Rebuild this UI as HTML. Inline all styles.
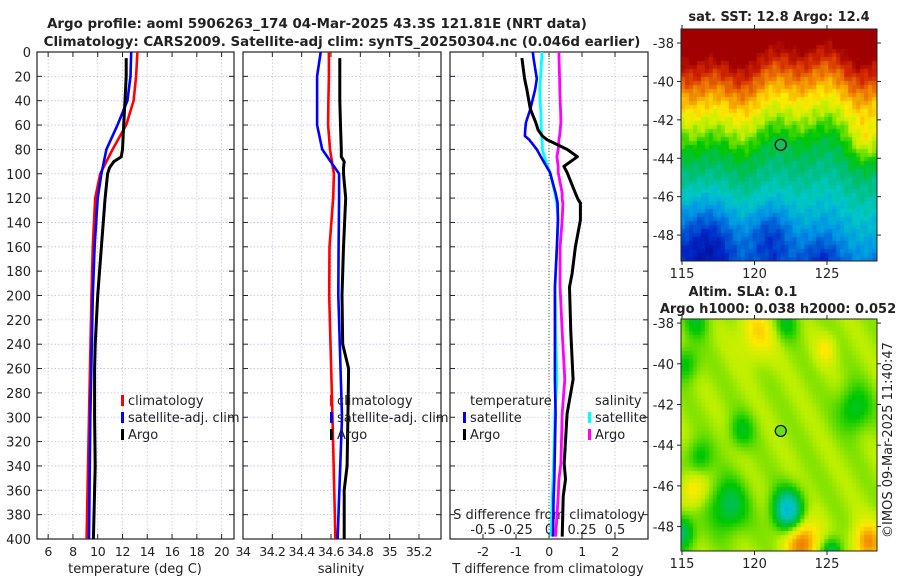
<!DOCTYPE html>
<html><head><meta charset="utf-8">
<style>
html,body{margin:0;padding:0;background:#fff;}
#wrap{position:relative;width:900px;height:580px;overflow:hidden;}
svg text{font-family:"DejaVu Sans","Liberation Sans",sans-serif;fill:#222;}
canvas{position:absolute;}
</style></head>
<body>
<div id="wrap">
<canvas id="sst" width="197" height="232" style="left:681px;top:29px;width:196px;height:232px"></canvas>
<canvas id="sla" width="197" height="232" style="left:681px;top:319px;width:196px;height:232px"></canvas>
<svg id="svg" width="900" height="580" style="position:absolute;left:0;top:0" xmlns="http://www.w3.org/2000/svg">
<text x="317" y="28" font-size="13.4" font-weight="bold" text-anchor="middle">Argo profile: aoml 5906263_174 04-Mar-2025 43.3S 121.81E (NRT data)</text>
<text x="342" y="46" font-size="13.4" font-weight="bold" text-anchor="middle">Climatology: CARS2009. Satellite-adj clim: synTS_20250304.nc (0.046d earlier)</text>
<text x="779" y="21" font-size="13" font-weight="bold" text-anchor="middle">sat. SST: 12.8 Argo: 12.4</text>
<text x="743" y="296" font-size="13" font-weight="bold" text-anchor="middle">Altim. SLA: 0.1</text>
<text x="778" y="313" font-size="13" font-weight="bold" text-anchor="middle">Argo h1000: 0.038 h2000: 0.052</text>
<text transform="translate(892,440) rotate(-90)" font-size="13" text-anchor="middle">©IMOS 09-Mar-2025 11:40:47</text>
<g id="g"></g>
</svg>
</div>
<script>
// ---- data ----
const depthClim=[0,20,40,60,80,100,120,160,200,300,400];
const tempClim=[13.2,13.1,12.9,12.3,11.2,10.2,9.8,9.6,9.5,9.3,9.1];
const tempSat=[12.7,12.65,12.4,11.6,10.7,10.3,10.0,9.75,9.6,9.4,9.3];
const salClim=[34.586,34.586,34.582,34.58,34.593,34.62,34.615,34.59,34.588,34.61,34.63];
const salSat=[34.53,34.505,34.505,34.505,34.54,34.655,34.655,34.652,34.65,34.675,34.645];
const depthArgo=[5,20,40,60,80,86,90,95,100,120,160,200,240,260,300,340,360,400];
const tempArgo=[12.3,12.3,12.2,12.1,12.0,11.9,11.3,10.95,10.8,10.6,10.3,10.0,9.8,9.75,9.75,9.8,9.75,9.65];
const salArgo=[34.66,34.66,34.66,34.665,34.67,34.67,34.69,34.685,34.685,34.70,34.685,34.675,34.68,34.72,34.715,34.71,34.69,34.69];
const depthDiff=[0,5,22,31,45,48,58,64,69,72,80,86,94,99,116,121,124,138,160,182,193,230,269,297,338,351,365,398];
const dTArgo=[null,-0.82,-0.74,-0.67,-0.58,-0.55,-0.4,-0.33,-0.2,-0.06,0.55,0.86,0.45,0.55,0.8,0.88,0.95,0.95,0.8,0.7,0.62,0.66,0.73,0.55,0.46,0.5,0.43,0.4];
const dTSat=[-0.49,-0.47,-0.37,-0.42,-0.55,-0.58,-0.7,-0.72,-0.73,-0.6,-0.37,-0.25,-0.08,0.03,0.2,0.24,0.26,0.27,0.24,0.2,0.18,0.18,0.18,0.2,0.17,0.16,0.14,0.12];
const dSSat=[-0.053,-0.055,-0.065,-0.07,-0.065,-0.062,-0.06,-0.058,-0.055,-0.052,-0.05,-0.035,-0.01,0.008,0.045,0.053,0.058,0.07,0.06,0.05,0.046,0.05,0.06,0.045,0.035,0.03,0.025,0.015];
const dSArgo=[0.076,0.076,0.08,0.082,0.086,0.088,0.09,0.085,0.08,0.075,0.07,0.06,0.07,0.07,0.1,0.1,0.105,0.1,0.084,0.084,0.084,0.1,0.12,0.1,0.09,0.075,0.07,0.05];
const depthTicks=[0,20,40,60,80,100,120,140,160,180,200,220,240,260,280,300,320,340,360,380,400];
const tempTicks=[6,8,10,12,14,16,18,20];
const salTicks=[34,34.2,34.4,34.6,34.8,35,35.2];
const dTTicks=[-2,-1,0,1,2];
const dSTicks=[-0.5,-0.25,0,0.25,0.5];
const dSTickLabels=["-0.5","-0.25","0","0.25","0.5"];
const latTicks=[-38,-40,-42,-44,-46,-48];
const lonTicks=[115,120,125];

const NS="http://www.w3.org/2000/svg";
const G=document.getElementById('g');
function mk(tag,attrs,parent){const e=document.createElementNS(NS,tag);for(const k in attrs)e.setAttribute(k,attrs[k]);(parent||G).appendChild(e);return e;}
const top0=52,bot0=539;
const yD=d=>top0+(d/400)*(bot0-top0);
function lin(d0,d1,r0,r1){return v=>r0+(v-d0)/(d1-d0)*(r1-r0);}
const panels=[
 {x0:37,x1:234,f:lin(5.1,21.0,37,234),ticks:tempTicks,name:'temperature-panel'},
 {x0:243,x1:441,f:lin(34,35.35,243,441),ticks:salTicks,name:'salinity-panel'},
 {x0:450,x1:648,f:lin(-3,3,450,648),ticks:dTTicks,name:'difference-panel'}
];
panels.forEach((p,i)=>{
  const g=mk('g',{});
  
  
  depthTicks.forEach(d=>{
    if(d>0&&d<400){const l=mk('line',{x1:p.x0,x2:p.x1,y1:yD(d),y2:yD(d),stroke:'#b8c0f0','stroke-width':0.8,'stroke-dasharray':'1.5,2'},g);
    }
    mk('line',{x1:p.x0,x2:p.x0+5,y1:yD(d),y2:yD(d),stroke:'#222'},g);
    mk('line',{x1:p.x1,x2:p.x1-5,y1:yD(d),y2:yD(d),stroke:'#222'},g);
  });
  p.ticks.forEach(t=>{
    const x=p.f(t);
    if(x>p.x0+1&&x<p.x1-1){const l=mk('line',{x1:x,x2:x,y1:top0,y2:bot0,stroke:'#c8c0e8','stroke-width':0.8,'stroke-dasharray':'1.5,2'},g);
    }
    mk('line',{x1:x,x2:x,y1:bot0,y2:bot0-5,stroke:'#222'},g);
    mk('line',{x1:x,x2:x,y1:top0,y2:top0+5,stroke:'#222'},g);
    const tx=mk('text',{x:x,y:bot0+17,'font-size':12.5,'text-anchor':'middle','letter-spacing':'-0.4'},g);
    tx.textContent=String(t);
    
  });
  const r=mk('rect',{x:p.x0,y:top0,width:p.x1-p.x0,height:bot0-top0,fill:'none',stroke:'#222','stroke-width':1.2},g);
  
});
depthTicks.forEach(d=>{const t=mk('text',{x:31,y:yD(d)+5,'font-size':13,'text-anchor':'end'});t.textContent=d;
 });
function xlab(x,s,n){const t=mk('text',{x:x,y:573,'font-size':13,'text-anchor':'middle'});t.textContent=s;}
xlab(135,'temperature (deg C)','temperature-axis-title');
xlab(341,'salinity','salinity-axis-title');
xlab(548,'T difference from climatology','t-diff-axis-title');
const z=mk('line',{x1:549,x2:549,y1:top0,y2:bot0,stroke:'#556b2f','stroke-width':1,'stroke-dasharray':'1,2'});

const fS=lin(-0.75,0.75,450,648);
dSTicks.forEach((s,i)=>{const t=mk('text',{x:fS(s),y:534,'font-size':13,'text-anchor':'middle'});t.textContent=dSTickLabels[i];
 });
{const t=mk('text',{x:549,y:519,'font-size':13,'text-anchor':'middle'});t.textContent='S difference from climatology';
 }
function series(depths,vals,f,color,w,name){
  let d='';depths.forEach((dp,i)=>{if(vals[i]==null)return;d+=(d?'L':'M')+f(vals[i]).toFixed(1)+','+yD(dp).toFixed(1);});
  const p=mk('path',{d:d,fill:'none',stroke:color,'stroke-width':w,'stroke-linejoin':'round'});
  
}
const fT=panels[0].f,fSal=panels[1].f,fdT=panels[2].f;
series(depthClim,tempClim,fT,'#ff0000',2.6,'temp-climatology-line');
series(depthClim,tempSat,fT,'#0000ff',2.6,'temp-satellite-line');
series(depthArgo,tempArgo,fT,'#000',3,'temp-argo-line');
series(depthClim,salClim,fSal,'#ff0000',2.6,'sal-climatology-line');
series(depthClim,salSat,fSal,'#0000ff',2.6,'sal-satellite-line');
series(depthArgo,salArgo,fSal,'#000',3,'sal-argo-line');
series(depthDiff,dSSat,fS,'#00ffff',2.8,'sdiff-satellite-line');
series(depthDiff,dTSat,fdT,'#0000ff',2.6,'tdiff-satellite-line');
series(depthDiff,dSArgo,fS,'#ff00ff',2.8,'sdiff-argo-line');
series(depthDiff,dTArgo,fdT,'#000',3,'tdiff-argo-line');
function leg(x,y,color,label,name){
  const g=mk('g',{});
  if(color) mk('rect',{x:x,y:y-10,width:3,height:11,fill:color},g);
  const t=mk('text',{x:x+7,y:y,'font-size':13},g);t.textContent=label;
}
leg(121,405,'#ff0000','climatology','legend-climatology');
leg(121,422,'#0000ff','satellite-adj. clim','legend-satellite');
leg(121,439,'#000','Argo','legend-argo');
leg(330,405,'#ff0000','climatology','legend-sal-climatology');
leg(330,422,'#0000ff','satellite-adj. clim','legend-sal-satellite');
leg(330,439,'#000','Argo','legend-sal-argo');
leg(463,405,null,'temperature','legend-temp-header');
leg(463,422,'#0000ff','satellite','legend-tdiff-satellite');
leg(463,439,'#000','Argo','legend-tdiff-argo');
leg(588,405,null,'salinity','legend-sal-header');
leg(588,422,'#00ffff','satellite','legend-sdiff-satellite');
leg(588,439,'#ff00ff','Argo','legend-sdiff-argo');
function mapAxes(y0,y1,lat0,lat1,name){
  const x0=681,x1=877;const fx=lin(114.93,128.45,x0,x1);const fy=lin(lat0,lat1,y0,y1);
  const g=mk('g',{});
  mk('rect',{x:x0,y:y0,width:x1-x0,height:y1-y0,fill:'none',stroke:'#222','stroke-width':1},g);
  latTicks.forEach(l=>{const y=fy(l);mk('line',{x1:x0,x2:x0-4,y1:y,y2:y,stroke:'#222'},g);mk('line',{x1:x1,x2:x1+4,y1:y,y2:y,stroke:'#222'},g);
    const t=mk('text',{x:674,y:y+5,'font-size':13,'text-anchor':'end'},g);t.textContent=l;
    });
  lonTicks.forEach(l=>{const x=fx(l);mk('line',{x1:x,x2:x,y1:y1,y2:y1+4,stroke:'#222'},g);mk('line',{x1:x,x2:x,y1:y0,y2:y0-4,stroke:'#222'},g);
    const t=mk('text',{x:x,y:y1+17,'font-size':13,'text-anchor':'middle'},g);t.textContent=l;
    });
  return {fx,fy};
}
const m1=mapAxes(29,261,-37.27,-49.35,'sst-map-axes');
const m2=mapAxes(319,551,-37.8,-49.2,'sla-map-axes');
const cmapStops=[[0,0,0,130],[0.15,0,40,200],[0.3,0,150,230],[0.4,0,200,200],[0.5,0,190,110],[0.58,0,200,0],[0.68,190,240,0],[0.75,255,235,0],[0.85,240,130,0],[0.93,210,40,0],[1,160,0,0]];
function cmap(v){v=Math.max(0,Math.min(1,v));for(let i=1;i<cmapStops.length;i++){const a=cmapStops[i-1],b=cmapStops[i];if(v<=b[0]){const t=(v-a[0])/(b[0]-a[0]);return [a[1]+t*(b[1]-a[1]),a[2]+t*(b[2]-a[2]),a[3]+t*(b[3]-a[3])];}}return [160,0,0];}
function drawMap(id,lat0,lat1,fn){
  const c=document.getElementById(id).getContext('2d');const cell=4;
  for(let py=0;py<232;py+=cell)for(let px=0;px<197;px+=cell){
    const lon=114.93+(px+cell/2)/197*(128.45-114.93);const lat=lat0+(py+cell/2)/232*(lat1-lat0);
    const [r,g,b]=cmap(fn(lat,lon));c.fillStyle=`rgb(${r|0},${g|0},${b|0})`;c.fillRect(px,py,cell,cell);}
}
const gs=(lon,lat,bx,by,s)=>Math.exp(-((lon-bx)**2+(lat-by)**2)/(2*s*s));
drawMap('sst',-37.27,-49.35,(lat,lon)=>{
  let sh=0.45*Math.sin((lon-115)*0.55)+0.3*Math.sin((lon-115)*1.6+1);
  let l=lat+sh+43.5;
  let v=l>0?0.55+l*0.09:0.55+l*0.05;
  v+=0.015*Math.sin(lon*7.3+lat*3.1)+0.015*Math.sin(lon*3.7-lat*6.3);
  v-=0.2*gs(lon,lat,116.5,-48.5,1.7);
  v-=0.12*gs(lon,lat,121,-48,1.1);
  v-=0.08*gs(lon,lat,124.5,-49.3,0.9);
  v+=0.1*gs(lon,lat,127.8,-43.2,0.8);
  return Math.min(1,v);
});
const blobs=[[120.2,-38.5,0.1,0.9],[118.2,-47,-0.15,0.9],[122.3,-47.2,-0.3,0.7],[123.3,-48.8,0.2,0.8],[127.8,-48.8,0.17,0.7],[126.9,-42.2,-0.12,0.8],[119.1,-43.3,-0.1,0.6],[116.2,-44.6,-0.1,0.6],[115.3,-40,-0.1,0.6],[124.9,-39.3,0.08,0.5],[115.8,-46.2,0.1,0.6],[116,-37.9,-0.1,0.6],[122.2,-38,-0.1,0.6],[125.3,-49.3,-0.17,0.5],[115,-48.3,-0.17,0.6]];
drawMap('sla',-37.8,-49.2,(lat,lon)=>{
  let v=0.665+0.015*Math.sin(lon*2+lat*1.5);
  blobs.forEach(([bx,by,a,s])=>{v+=a*gs(lon,lat,bx,by,s);});
  return v;
});
[[m1,'#1fb85a','sst-argo-marker'],[m2,'#66e01a','sla-argo-marker']].forEach(([m,col,n])=>{
  const c=mk('circle',{cx:m.fx(121.81),cy:m.fy(-43.3),r:5.5,fill:col,stroke:'#000','stroke-width':1.2});
  
});
</script>
</body></html>
